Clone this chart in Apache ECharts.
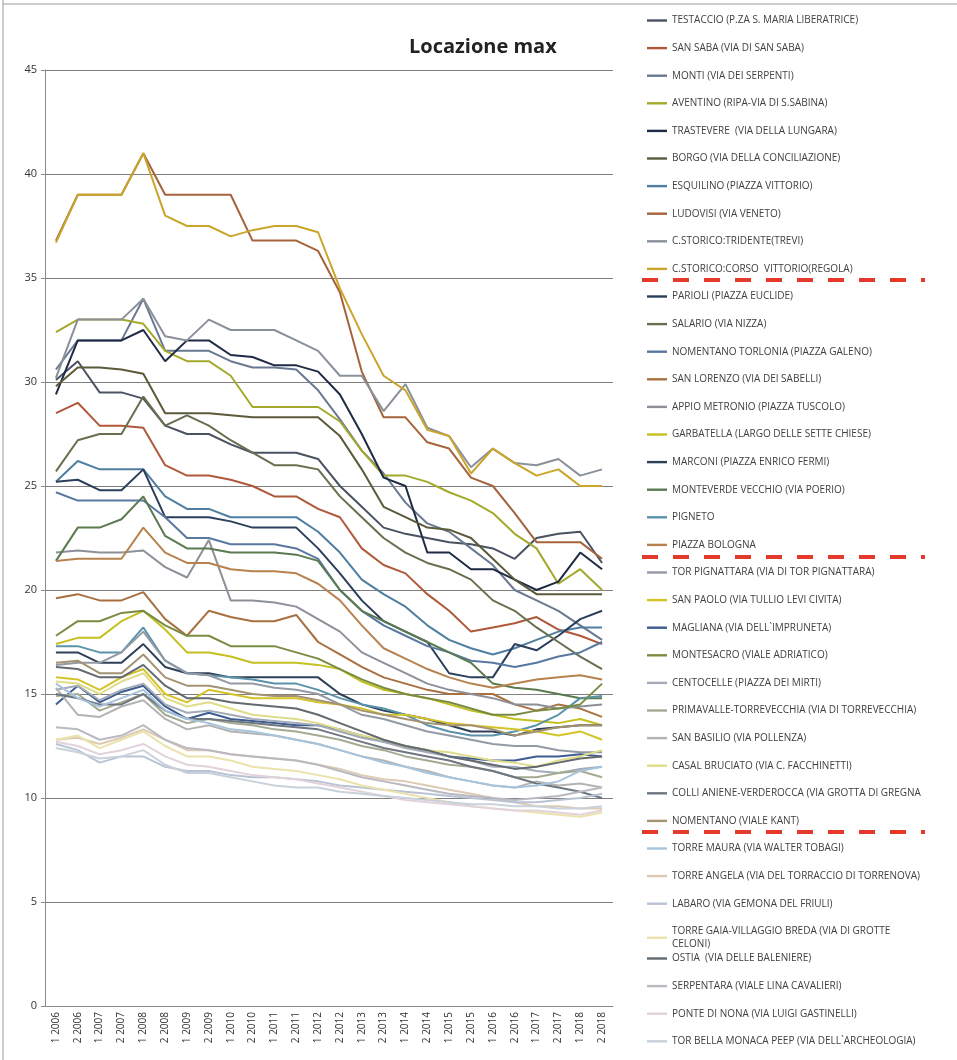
<!DOCTYPE html>
<html>
<head>
<meta charset="utf-8">
<title>Locazione max</title>
<script src="https://cdn.jsdelivr.net/npm/echarts/dist/echarts.min.js"></script>
<style>
  html, body { margin: 0; padding: 0; background: #fff; }
  #chart { width: 957px; height: 1060px; }
</style>
</head>
<body>
<div id="chart"></div>
<script>
// semestri
var categories = ['1 2006', '2 2006', '1 2007', '2 2007', '1 2008', '2 2008', '1 2009', '2 2009',
  '1 2010', '2 2010', '1 2011', '2 2011', '1 2012', '2 2012', '1 2013', '2 2013', '1 2014', '2 2014',
  '1 2015', '2 2015', '1 2016', '2 2016', '1 2017', '2 2017', '1 2018', '2 2018'];

var yTicks = [0, 5, 10, 15, 20, 25, 30, 35, 40, 45];

var testaccio = [30.1, 31, 29.5, 29.5, 29.2, 27.9, 27.5, 27.5, 27, 26.6, 26.6, 26.6, 26.3, 25, 24, 23, 22.7, 22.5, 22.3, 22.2, 22, 21.5, 22.5, 22.7, 22.8, 21.3];
var sanSaba = [28.5, 29, 27.9, 27.9, 27.8, 26, 25.5, 25.5, 25.3, 25, 24.5, 24.5, 23.9, 23.5, 22, 21.2, 20.8, 19.8, 19, 18, 18.2, 18.4, 18.7, 18.1, 17.8, 17.4];
var monti = [30.6, 32, 32, 32, 34, 31.5, 31.5, 31.5, 31, 30.7, 30.7, 30.6, 29.6, 28.2, 26.7, 25.6, 24.2, 23.2, 22.8, 22, 21.2, 20, 19.5, 19, 18.3, 17.6];
var aventino = [32.4, 33, 33, 33, 32.8, 31.5, 31, 31, 30.3, 28.8, 28.8, 28.8, 28.8, 28.1, 26.7, 25.5, 25.5, 25.2, 24.7, 24.3, 23.7, 22.7, 22, 20.3, 21, 20];
var trastevere = [29.4, 32, 32, 32, 32.5, 31, 32, 32, 31.3, 31.2, 30.8, 30.8, 30.5, 29.4, 27.5, 25.4, 25, 21.8, 21.8, 21, 21, 20.5, 20, 20.4, 21.8, 21];
var borgo = [29.8, 30.7, 30.7, 30.6, 30.4, 28.5, 28.5, 28.5, 28.4, 28.3, 28.3, 28.3, 28.3, 27.4, 25.8, 24, 23.5, 23, 22.9, 22.5, 21.5, 20.5, 19.8, 19.8, 19.8, 19.8];
var esquilino = [25.2, 26.2, 25.8, 25.8, 25.8, 24.5, 23.9, 23.9, 23.5, 23.5, 23.5, 23.5, 22.8, 21.8, 20.5, 19.8, 19.2, 18.3, 17.6, 17.2, 16.9, 17.2, 17.6, 18, 18.2, 18.2];
var ludovisi = [36.8, 39, 39, 39, 41, 39, 39, 39, 39, 36.8, 36.8, 36.8, 36.3, 34.3, 30.5, 28.3, 28.3, 27.1, 26.8, 25.4, 25, 23.7, 22.3, 22.3, 22.3, 21.5];
var tridente = [30.2, 33, 33, 33, 34, 32.2, 32, 33, 32.5, 32.5, 32.5, 32, 31.5, 30.3, 30.3, 28.6, 29.9, 27.8, 27.4, 25.9, 26.8, 26.1, 26, 26.3, 25.5, 25.8];
var corsoVittorio = [36.7, 39, 39, 39, 41, 38, 37.5, 37.5, 37, 37.3, 37.5, 37.5, 37.2, 34.5, 32.3, 30.3, 29.6, 27.7, 27.4, 25.6, 26.8, 26.1, 25.5, 25.8, 25, 25];
var parioli = [25.2, 25.3, 24.8, 24.8, 25.8, 23.5, 23.5, 23.5, 23.3, 23, 23, 23, 22, 20.8, 19.5, 18.5, 18, 17.5, 16, 15.8, 15.8, 17.4, 17.1, 17.8, 18.6, 19];
var salario = [25.7, 27.2, 27.5, 27.5, 29.3, 27.9, 28.4, 27.9, 27.2, 26.6, 26, 26, 25.8, 24.5, 23.5, 22.5, 21.8, 21.3, 21, 20.5, 19.5, 19, 18.2, 17.5, 16.8, 16.2];
var nomentanoTorlonia = [24.7, 24.3, 24.3, 24.3, 24.3, 23.5, 22.5, 22.5, 22.2, 22.2, 22.2, 22, 21.5, 20, 19, 18.3, 17.8, 17.3, 17, 16.6, 16.5, 16.3, 16.5, 16.8, 17, 17.5];
var sanLorenzo = [19.6, 19.8, 19.5, 19.5, 19.9, 18.6, 17.8, 19, 18.7, 18.5, 18.5, 18.8, 17.5, 16.9, 16.3, 15.8, 15.5, 15.2, 15, 15, 15, 14.5, 14.2, 14.5, 14.3, 13.9];
var appioMetronio = [21.8, 21.9, 21.8, 21.8, 21.9, 21.1, 20.6, 22.4, 19.5, 19.5, 19.4, 19.2, 18.6, 18, 17, 16.5, 16, 15.5, 15.2, 15, 14.8, 14.5, 14.5, 14.3, 14.4, 14.5];
var garbatella = [17.4, 17.7, 17.7, 18.5, 19, 18.1, 17, 17, 16.8, 16.5, 16.5, 16.5, 16.4, 16.2, 15.6, 15.2, 15, 14.8, 14.5, 14.2, 14, 13.8, 13.7, 13.6, 13.8, 13.5];
var marconi = [17, 17, 16.5, 16.5, 17.4, 16.3, 16, 16, 15.8, 15.8, 15.8, 15.8, 15.8, 15, 14.5, 14.2, 14, 13.8, 13.5, 13.2, 13.2, 13, 13.3, 13.4, 13.5, 13.5];
var monteverde = [21.4, 23, 23, 23.4, 24.5, 22.6, 22, 22, 21.8, 21.8, 21.8, 21.7, 21.4, 20, 19, 18.5, 18, 17.5, 17, 16.5, 15.5, 15.3, 15.2, 15, 14.8, 14.8];
var pigneto = [17.3, 17.3, 17, 17, 18.2, 16.6, 16, 15.9, 15.8, 15.7, 15.5, 15.5, 15.2, 14.8, 14.5, 14.3, 14, 13.5, 13.2, 13, 13, 13.2, 13.5, 14, 14.8, 14.9];
var piazzaBologna = [21.4, 21.5, 21.5, 21.5, 23, 21.8, 21.3, 21.3, 21, 20.9, 20.9, 20.8, 20.3, 19.5, 18.3, 17.2, 16.7, 16.2, 15.8, 15.5, 15.3, 15.5, 15.7, 15.8, 15.9, 15.7];
var torPignattara = [16.4, 16.5, 16.5, 17, 18, 16.6, 16, 15.9, 15.5, 15.5, 15.3, 15.2, 15, 14.5, 14, 13.8, 13.5, 13.2, 13, 12.8, 12.6, 12.5, 12.5, 12.3, 12.2, 12.2];
var sanPaolo = [15.8, 15.7, 15.2, 15.8, 16.2, 15, 14.6, 15.2, 15, 14.8, 14.8, 14.8, 14.6, 14.5, 14.3, 14, 14, 13.8, 13.6, 13.5, 13.4, 13.3, 13.2, 13, 13.2, 12.8];
var magliana = [14.5, 15.4, 14.6, 15.1, 15.4, 14.4, 13.8, 14.1, 13.8, 13.7, 13.6, 13.5, 13.5, 13.3, 13, 12.7, 12.5, 12.3, 12, 11.9, 11.8, 11.8, 12, 12, 12.1, 12];
var montesacro = [17.8, 18.5, 18.5, 18.9, 19, 18.3, 17.8, 17.8, 17.3, 17.3, 17.3, 17, 16.7, 16.2, 15.7, 15.3, 15, 14.8, 14.6, 14.3, 14, 14, 14.2, 14.3, 14.5, 15.5];
var centocelle = [15.2, 15.4, 14.7, 15.2, 15.5, 14.5, 14.1, 14.2, 14, 13.8, 13.7, 13.6, 13.5, 13.2, 12.9, 12.7, 12.4, 12.2, 12, 11.8, 11.5, 11.5, 11.3, 11.2, 11.4, 11.5];
var primavalle = [14.9, 15, 14.2, 14.6, 15, 14, 13.6, 13.8, 13.6, 13.5, 13.3, 13.2, 13, 12.8, 12.5, 12.3, 12, 11.8, 11.6, 11.5, 11.3, 11, 11, 11.2, 11.3, 11];
var sanBasilio = [15.3, 14, 13.9, 14.4, 14.7, 13.8, 13.3, 13.5, 13.2, 13.1, 13, 12.8, 12.6, 12.3, 12, 11.8, 11.5, 11.3, 11, 10.8, 10.6, 10.5, 10.8, 10.6, 10.7, 10.5];
var casalBruciato = [15.6, 15.5, 15, 15.6, 16, 14.8, 14.4, 14.6, 14.3, 14, 13.9, 13.8, 13.6, 13.3, 13, 12.8, 12.5, 12.3, 12.2, 12, 11.8, 11.7, 11.5, 11.8, 12, 12.3];
var colliAniene = [15, 14.8, 14.5, 14.5, 15, 14.2, 13.8, 13.8, 13.7, 13.6, 13.5, 13.4, 13.3, 13, 12.7, 12.4, 12.2, 12, 11.8, 11.5, 11.3, 11, 10.7, 10.5, 10.3, 10];
var nomentanoKant = [16.5, 16.6, 16, 16, 16.9, 15.8, 15.4, 15.4, 15.2, 15, 14.9, 14.9, 14.7, 14.5, 14.2, 14, 13.8, 13.6, 13.5, 13.5, 13.3, 13, 13.2, 13.4, 13.5, 13.5];
var torreMaura = [15.5, 14.8, 14.4, 14.8, 15.2, 14.2, 13.8, 13.6, 13.3, 13.2, 13, 12.8, 12.6, 12.3, 12, 11.7, 11.5, 11.2, 11, 10.8, 10.6, 10.5, 10.6, 10.8, 11.3, 11.5];
var torreAngela = [12.8, 12.9, 12.6, 12.9, 13.3, 12.8, 12.3, 12.3, 12.1, 12, 11.9, 11.8, 11.6, 11.4, 11.1, 10.9, 10.8, 10.6, 10.4, 10.2, 10, 9.8, 9.6, 9.6, 9.5, 9.5];
var labaro = [12.6, 12.3, 11.7, 12, 12, 11.5, 11.3, 11.3, 11.1, 11, 11, 10.9, 10.8, 10.6, 10.5, 10.4, 10.3, 10.2, 10.1, 10, 9.9, 9.8, 9.8, 9.9, 10, 10.2];
var torreGaia = [12.8, 13, 12.4, 12.8, 13.2, 12.5, 12, 12, 11.8, 11.5, 11.4, 11.3, 11.1, 10.9, 10.6, 10.4, 10.2, 10, 9.8, 9.6, 9.5, 9.4, 9.3, 9.2, 9.1, 9.3];
var ostia = [16.3, 16.2, 15.8, 15.8, 16.4, 15.4, 14.8, 14.8, 14.6, 14.5, 14.4, 14.3, 14, 13.6, 13.2, 12.8, 12.5, 12.3, 12, 11.8, 11.6, 11.4, 11.5, 11.7, 11.9, 12];
var serpentara = [13.4, 13.3, 12.8, 13, 13.5, 12.8, 12.4, 12.3, 12.1, 12, 11.9, 11.8, 11.6, 11.3, 11, 10.8, 10.6, 10.4, 10.2, 10.1, 10, 9.9, 10, 10.1, 10.3, 10.5];
var ponteDiNona = [12.7, 12.5, 12.1, 12.3, 12.6, 12, 11.6, 11.5, 11.3, 11.1, 11, 10.9, 10.7, 10.5, 10.3, 10.1, 9.9, 9.8, 9.7, 9.6, 9.5, 9.4, 9.4, 9.3, 9.2, 9.4];
var torBellaMonaca = [12.4, 12.2, 11.9, 12, 12.3, 11.6, 11.2, 11.2, 11, 10.8, 10.6, 10.5, 10.5, 10.3, 10.2, 10.1, 10, 9.9, 9.8, 9.7, 9.7, 9.6, 9.6, 9.5, 9.5, 9.6];

var names = [
  'TESTACCIO (P.ZA S. MARIA LIBERATRICE)', 'SAN SABA (VIA DI SAN SABA)', 'MONTI (VIA DEI SERPENTI)',
  'AVENTINO (RIPA-VIA DI S.SABINA)', 'TRASTEVERE  (VIA DELLA LUNGARA)', 'BORGO (VIA DELLA CONCILIAZIONE)',
  'ESQUILINO (PIAZZA VITTORIO)', 'LUDOVISI (VIA VENETO)', 'C.STORICO:TRIDENTE(TREVI)',
  'C.STORICO:CORSO  VITTORIO(REGOLA)', 'PARIOLI (PIAZZA EUCLIDE)', 'SALARIO (VIA NIZZA)',
  'NOMENTANO TORLONIA (PIAZZA GALENO)', 'SAN LORENZO (VIA DEI SABELLI)', 'APPIO METRONIO (PIAZZA TUSCOLO)',
  'GARBATELLA (LARGO DELLE SETTE CHIESE)', 'MARCONI (PIAZZA ENRICO FERMI)', 'MONTEVERDE VECCHIO (VIA POERIO)',
  'PIGNETO', 'PIAZZA BOLOGNA', 'TOR PIGNATTARA (VIA DI TOR PIGNATTARA)', 'SAN PAOLO (VIA TULLIO LEVI CIVITA)',
  'MAGLIANA (VIA DELL`IMPRUNETA)', 'MONTESACRO (VIALE ADRIATICO)', 'CENTOCELLE (PIAZZA DEI MIRTI)',
  'PRIMAVALLE-TORREVECCHIA (VIA DI TORREVECCHIA)', 'SAN BASILIO (VIA POLLENZA)', 'CASAL BRUCIATO (VIA C. FACCHINETTI)',
  'COLLI ANIENE-VERDEROCCA (VIA GROTTA DI GREGNA', 'NOMENTANO (VIALE KANT)', 'TORRE MAURA (VIA WALTER TOBAGI)',
  'TORRE ANGELA (VIA DEL TORRACCIO DI TORRENOVA)', 'LABARO (VIA GEMONA DEL FRIULI)',
  'TORRE GAIA-VILLAGGIO BREDA (VIA DI GROTTE CELONI)', 'OSTIA  (VIA DELLE BALENIERE)',
  'SERPENTARA (VIALE LINA CAVALIERI)', 'PONTE DI NONA (VIA LUIGI GASTINELLI)', 'TOR BELLA MONACA PEEP (VIA DELL`ARCHEOLOGIA)'
];

var values = [
  testaccio, sanSaba, monti, aventino, trastevere, borgo, esquilino, ludovisi, tridente, corsoVittorio,
  parioli, salario, nomentanoTorlonia, sanLorenzo, appioMetronio, garbatella, marconi, monteverde, pigneto, piazzaBologna,
  torPignattara, sanPaolo, magliana, montesacro, centocelle, primavalle, sanBasilio, casalBruciato, colliAniene, nomentanoKant,
  torreMaura, torreAngela, labaro, torreGaia, ostia, serpentara, ponteDiNona, torBellaMonaca
];

var colors = [
  '#4a5262', '#b0583a', '#6a7891', '#a3aa2a', '#1f2a44', '#5b5a3a', '#4f7ea0', '#a5633c', '#8a9099', '#c9a62a',
  '#2b3f5c', '#66704e', '#5878a0', '#a87040', '#8c9098', '#c4c020', '#2e4058', '#5a7a50', '#5a92aa', '#b8824e',
  '#939aa4', '#d4c42a', '#3c5c92', '#7a8c42', '#a3aab8', '#a4aa92', '#b3b3b3', '#e0dd8a', '#6e7680', '#a39372',
  '#a7c4dc', '#dccbb2', '#bac3d4', '#ebe2ac', '#62696f', '#b9b9c2', '#e2d2da', '#c9d1da'
];

var font = 'Open Sans';

var series = names.map(function (n, i) {
  return {
    name: n,
    type: 'line',
    data: values[i],
    symbol: 'none',
    color: colors[i],
    lineStyle: { width: 2 }
  };
});

var legendText = { fontFamily: font, fontSize: 10, color: '#404040', lineHeight: 13 };
var legendIcon = 'path://M0,0L20,0L20,2.4L0,2.4Z';

// separatori rossi tratteggiati nella legenda
var dashes = [280, 557, 832].map(function (y) {
  return {
    type: 'line',
    shape: { x1: 642, y1: y, x2: 925, y2: y },
    style: { stroke: '#e5392b', lineWidth: 4, lineDash: [16, 15] }
  };
});

var myChart = echarts.init(document.getElementById('chart'));
var option = {
  animation: false,
  backgroundColor: '#fff',
  title: {
    text: 'Locazione max',
    left: 404,
    top: 32,
    textStyle: { fontFamily: font, fontSize: 20, fontWeight: 'bold', color: '#222' }
  },
  legend: [{
    data: names.slice(0, 34),
    orient: 'vertical',
    left: 642,
    top: 9,
    itemWidth: 20,
    itemHeight: 13,
    itemGap: 14.6,
    icon: legendIcon,
    textStyle: legendText,
    formatter: function (n) {
      return n.indexOf('CELONI') > 0 ? 'TORRE GAIA-VILLAGGIO BREDA (VIA DI GROTTE\nCELONI)' : n;
    }
  }, {
    data: names.slice(34),
    orient: 'vertical',
    left: 642,
    top: 947,
    itemWidth: 20,
    itemHeight: 13,
    itemGap: 14.6,
    icon: legendIcon,
    textStyle: legendText
  }],
  grid: { left: 45, right: 344, top: 70, bottom: 54 },
  xAxis: {
    type: 'category',
    data: categories,
    boundaryGap: true,
    axisLine: { lineStyle: { color: '#8a8a8a' } },
    axisTick: { lineStyle: { color: '#8a8a8a' }, length: 4 },
    axisLabel: { rotate: 90, interval: 0, fontFamily: font, fontSize: 10, color: '#333', margin: 6 }
  },
  yAxis: {
    type: 'value',
    min: yTicks[0],
    max: yTicks[yTicks.length - 1],
    interval: 5,
    axisLine: { show: true, lineStyle: { color: '#8a8a8a' } },
    axisTick: { show: true, length: 4, lineStyle: { color: '#8a8a8a' } },
    axisLabel: { fontFamily: font, fontSize: 11, color: '#333', margin: 8 },
    splitLine: { lineStyle: { color: '#7f7f7f', width: 1 } }
  },
  graphic: dashes.concat([
    { type: 'line', shape: { x1: 3, y1: 0, x2: 3, y2: 1060 }, style: { stroke: '#9a9a9a', lineWidth: 1 } },
    { type: 'line', shape: { x1: 3, y1: 4, x2: 957, y2: 4 }, style: { stroke: '#9a9a9a', lineWidth: 1 } }
  ]),
  series: series
};

myChart.setOption(option, (window.onresize = myChart.resize));
</script>
</body>
</html>
